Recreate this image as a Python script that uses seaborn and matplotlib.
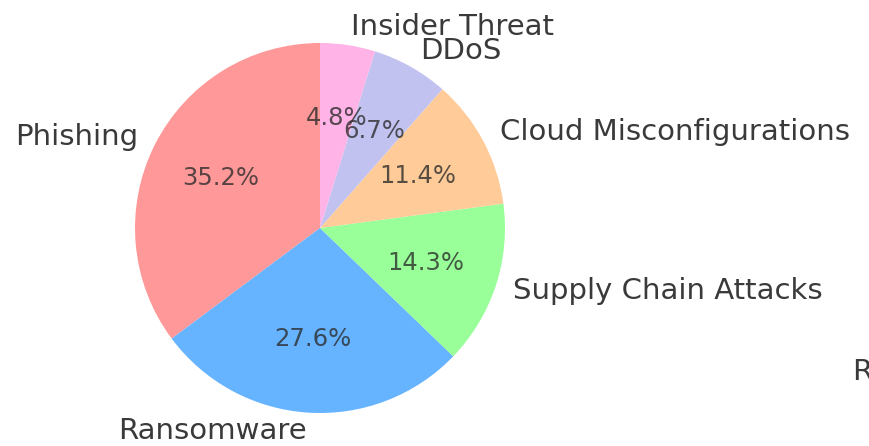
import matplotlib
matplotlib.use("Agg")
import matplotlib.pyplot as plt
import seaborn as sns

sns.set_theme(style="white")
plt.rcParams['font.family'] = ['DejaVu Sans']

categories = ["Phishing", "Ransomware", "Supply Chain Attacks",
              "Cloud Misconfigurations", "DDoS", "Insider Threat"]
shares = [35.2, 27.6, 14.3, 11.4, 6.7, 4.8]
colors = ["#ff9999", "#66b3ff", "#99ff99", "#ffcc99", "#c2c2f0", "#ffb3e6"]

fig = plt.figure(figsize=(8.7, 4.46), dpi=100)
W, H = 870, 446
cx, cy, r = 320, 228, 185
span = 2.5 * r
ax = fig.add_axes([(cx - span / 2) / W, ((H - cy) - span / 2) / H, span / W, span / H])

wedges, texts, autotexts = ax.pie(
    shares, labels=categories, colors=colors, autopct="%1.1f%%",
    startangle=90, counterclock=True,
    wedgeprops={"linewidth": 0, "edgecolor": "none"},
    textprops={"fontsize": 21, "color": "#3a3a3a"},
)
for t in autotexts:
    t.set_fontsize(17.5)
    t.set_color("#2a2a2a")
    t.set_alpha(0.78)
ax.set_xlim(-1.25, 1.25)
ax.set_ylim(-1.25, 1.25)
ax.set_aspect("equal")
ax.axis("off")

fig.text(852 / W, 1 - 372 / H, "R", fontsize=21, color="#3a3a3a", ha="left", va="center")

fig.savefig("out.png", dpi=100)
